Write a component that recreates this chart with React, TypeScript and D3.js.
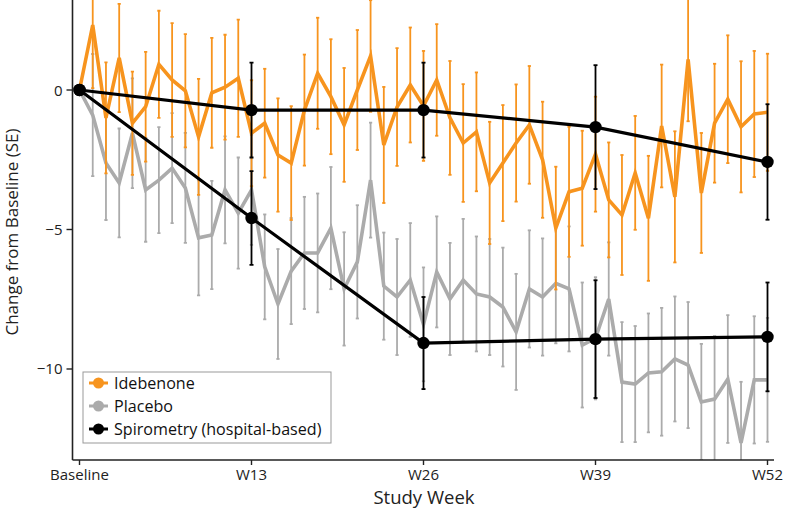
import React, { useEffect, useRef } from "react";
import * as d3 from "d3";

const weeks = [0,1,2,3,4,5,6,7,8,9,10,11,12,13,14,15,16,17,18,19,20,21,22,23,24,25,26,27,28,29,30,31,32,33,34,35,36,37,38,39,40,41,42,43,44,45,46,47,48,49,50,51,52];

const idebenoneMean = [0, 2.33, -1.0, 1.15, -1.19, -0.6, 0.92, 0.36, -0.03, -1.68, -0.1, 0.1, 0.42, -1.55, -1.19, -2.33, -2.62, -0.72, 0.6, -0.24, -1.25, 0, 1.22, -1.97, -0.61, 0.18, -0.57, 0.36, -1.0, -1.9, -1.5, -3.33, -2.62, -1.9, -1.25, -2.5, -4.95, -3.65, -3.52, -2.3, -3.94, -4.48, -2.97, -4.6, -1.29, -3.83, 1.1, -3.69, -1.19, -0.33, -1.32, -0.86, -0.8];
const idebenoneSE = [0, 2.26, 1.99, 1.94, 1.85, 1.97, 1.92, 2.04, 2.03, 2.08, 1.97, 1.88, 2.1, 1.9, 1.95, 2.03, 2.04, 1.99, 1.99, 2.06, 2.04, 2.15, 2.0, 2.08, 2.11, 2.06, 1.97, 2.0, 2.04, 2.11, 2.13, 2.19, 2.08, 2.1, 2.11, 2.08, 2.2, 2.33, 2.06, 2.06, 2.06, 2.15, 2.04, 2.24, 2.2, 2.35, 2.22, 2.15, 2.13, 2.29, 2.35, 2.26, 2.1];

const placeboMean = [0, -0.9, -2.62, -3.33, -1.55, -3.58, -3.23, -2.8, -3.51, -5.3, -5.2, -3.58, -4.41, -3.58, -6.34, -7.67, -6.49, -5.84, -5.84, -4.95, -7.13, -6.16, -3.23, -7.03, -7.42, -6.81, -8.4, -6.52, -7.49, -6.81, -7.31, -7.42, -7.78, -8.67, -7.13, -7.42, -6.93, -7.13, -9.14, -8.9, -7.49, -10.47, -10.54, -10.14, -10.1, -9.64, -9.86, -11.18, -11.08, -10.36, -12.65, -10.39, -10.39];
const placeboSE = [0, 2.19, 2.04, 1.95, 1.97, 1.86, 1.9, 1.97, 1.97, 2.06, 1.94, 1.92, 1.99, 1.97, 1.88, 1.97, 1.9, 2.01, 2.13, 2.19, 2.03, 2.03, 2.06, 1.92, 2.08, 2.04, 2.04, 1.99, 2.01, 2.19, 2.06, 2.08, 2.13, 2.08, 2.1, 2.1, 2.15, 2.24, 2.24, 2.19, 2.03, 2.15, 2.08, 2.13, 2.29, 2.24, 2.26, 2.08, 2.26, 2.29, 2.19, 2.28, 2.22];

const spiroWeeks = [0, 13, 26, 39, 52];
const spiroIdebenoneMean = [0, -0.72, -0.72, -1.33, -2.58];
const spiroIdebenoneSE = [0, 1.7, 1.7, 2.22, 2.07];
const spiroPlaceboMean = [0, -4.59, -9.07, -8.93, -8.85];
const spiroPlaceboSE = [0, 1.68, 1.65, 2.11, 1.95];

const xTickValues = [0, 13, 26, 39, 52];
const xTickLabels = ["Baseline", "W13", "W26", "W39", "W52"];
const yTickValues = [0, -5, -10];

const legendLabels = ["Idebenone", "Placebo", "Spirometry (hospital-based)"];

const ORANGE = "#F7941E";
const GRAY = "#ABABAB";
const BLACK = "#000000";
const FONT = "'Open Sans', sans-serif";

const W = 787;
const H = 509;
const plot = { left: 72.5, right: 774, top: 0, bottom: 460 };

export default function App() {
  const ref = useRef<SVGSVGElement>(null);

  useEffect(() => {
    const svg = d3.select(ref.current);
    svg.selectAll("*").remove();

    const x = d3.scaleLinear().domain([0, 52]).range([79.5, 767.5]);
    const y = d3.scaleLinear().domain([-13.262, 3.226]).range([plot.bottom, plot.top]);

    svg.append("defs").append("clipPath").attr("id", "plotclip")
      .append("rect").attr("x", plot.left).attr("y", plot.top)
      .attr("width", plot.right - plot.left).attr("height", plot.bottom - plot.top);

    const g = svg.append("g").attr("clip-path", "url(#plotclip)");

    const drawSeries = (means: number[], ses: number[], color: string) => {
      const bars = g.append("g");
      weeks.forEach((w, i) => {
        if (ses[i] <= 0) return;
        const y0 = y(means[i] + ses[i]);
        const y1 = y(means[i] - ses[i]);
        const cx = x(w);
        bars.append("line").attr("x1", cx).attr("x2", cx).attr("y1", y0).attr("y2", y1)
          .attr("stroke", color).attr("stroke-width", 1.8);
        [y0, y1].forEach((yy) => {
          bars.append("line").attr("x1", cx - 1.6).attr("x2", cx + 1.6).attr("y1", yy).attr("y2", yy)
            .attr("stroke", color).attr("stroke-width", 1.8);
        });
      });
      const line = d3.line<number>().x((_, i) => x(weeks[i])).y((d) => y(d));
      g.append("path").datum(means).attr("d", line).attr("fill", "none")
        .attr("stroke", color).attr("stroke-width", 3.6).attr("stroke-linejoin", "miter");
    };

    drawSeries(placeboMean, placeboSE, GRAY);
    drawSeries(idebenoneMean, idebenoneSE, ORANGE);

    const drawSpiro = (means: number[], ses: number[]) => {
      spiroWeeks.forEach((w, i) => {
        if (ses[i] <= 0) return;
        const cx = x(w);
        const y0 = y(means[i] + ses[i]);
        const y1 = y(means[i] - ses[i]);
        g.append("line").attr("x1", cx).attr("x2", cx).attr("y1", y0).attr("y2", y1)
          .attr("stroke", BLACK).attr("stroke-width", 1.8);
        [y0, y1].forEach((yy) => {
          g.append("line").attr("x1", cx - 2).attr("x2", cx + 2).attr("y1", yy).attr("y2", yy)
            .attr("stroke", BLACK).attr("stroke-width", 1.8);
        });
      });
    };
    drawSpiro(spiroIdebenoneMean, spiroIdebenoneSE);
    drawSpiro(spiroPlaceboMean, spiroPlaceboSE);

    const spiroLine = d3.line<number>().x((_, i) => x(spiroWeeks[i])).y((d) => y(d));
    [spiroIdebenoneMean, spiroPlaceboMean].forEach((m) => {
      g.append("path").datum(m).attr("d", spiroLine).attr("fill", "none")
        .attr("stroke", BLACK).attr("stroke-width", 3.2);
      g.selectAll(null).data(m).enter().append("circle")
        .attr("cx", (_, i) => x(spiroWeeks[i])).attr("cy", (d) => y(d)).attr("r", 6.2)
        .attr("fill", BLACK);
    });

    // axes
    const axes = svg.append("g");
    axes.append("line").attr("x1", plot.left).attr("x2", plot.left).attr("y1", plot.top).attr("y2", plot.bottom)
      .attr("stroke", "#222").attr("stroke-width", 1.6);
    axes.append("line").attr("x1", plot.left).attr("x2", plot.right).attr("y1", plot.bottom).attr("y2", plot.bottom)
      .attr("stroke", "#222").attr("stroke-width", 1.6);

    xTickValues.forEach((v, i) => {
      axes.append("line").attr("x1", x(v)).attr("x2", x(v)).attr("y1", plot.bottom).attr("y2", plot.bottom + 5)
        .attr("stroke", "#222").attr("stroke-width", 1.4);
      axes.append("text").attr("x", x(v)).attr("y", 479.5).attr("text-anchor", "middle")
        .attr("font-family", FONT).attr("font-size", 15).attr("fill", "#222").text(xTickLabels[i]);
    });
    yTickValues.forEach((v) => {
      axes.append("line").attr("x1", plot.left - 6).attr("x2", plot.left).attr("y1", y(v)).attr("y2", y(v))
        .attr("stroke", "#222").attr("stroke-width", 1.4);
      axes.append("text").attr("x", plot.left - 10).attr("y", y(v) + 5.5).attr("text-anchor", "end")
        .attr("font-family", FONT).attr("font-size", 15).attr("fill", "#222").text(d3.format("d")(v));
    });

    axes.append("text").attr("x", 424).attr("y", 503.5).attr("text-anchor", "middle")
      .attr("font-family", FONT).attr("font-size", 18.5).attr("fill", "#222").text("Study Week");
    axes.append("text").attr("transform", "translate(18,232) rotate(-90)").attr("text-anchor", "middle")
      .attr("font-family", FONT).attr("font-size", 17).attr("fill", "#222").text("Change from Baseline (SE)");

    // legend
    const lg = svg.append("g");
    lg.append("rect").attr("x", 83).attr("y", 372).attr("width", 248).attr("height", 71)
      .attr("fill", "white").attr("stroke", "#999").attr("stroke-width", 1);
    [ORANGE, GRAY, BLACK].forEach((c, i) => {
      const cy = 383 + i * 23;
      lg.append("line").attr("x1", 89).attr("x2", 108).attr("y1", cy).attr("y2", cy)
        .attr("stroke", c).attr("stroke-width", 3);
      lg.append("circle").attr("cx", 98.5).attr("cy", cy).attr("r", 5.5).attr("fill", c);
      lg.append("text").attr("x", 114).attr("y", cy + 6).attr("font-family", FONT).attr("font-size", 16.1)
        .attr("fill", "#111").text(legendLabels[i]);
    });
  }, []);

  return (
    <svg ref={ref} width={W} height={H} style={{ position: "absolute", left: 0, top: 0, background: "white" }} />
  );
}
